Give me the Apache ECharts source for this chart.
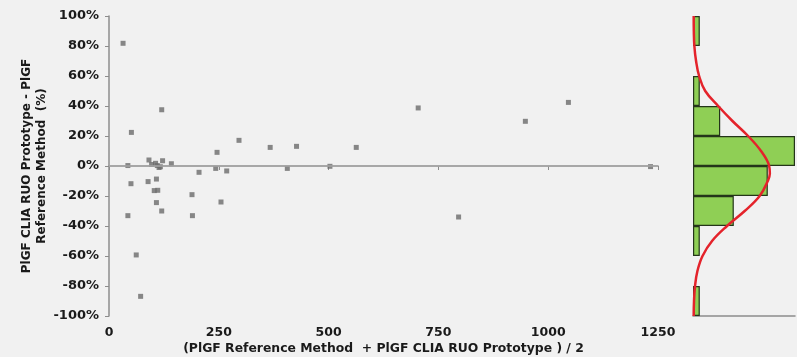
<!DOCTYPE html>
<html>
<head>
<meta charset="utf-8">
<script src="https://cdn.jsdelivr.net/npm/echarts@6/dist/echarts.min.js"></script>
<style>
  html, body { margin: 0; padding: 0; background: #f1f1f1; }
  #chart { width: 797px; height: 357px; }
</style>
</head>
<body>
<div id="chart"></div>
<script>
// mean of the two methods (x) and % difference (y)
const meanValues = [32, 120, 51, 43, 91, 97, 106, 110, 117, 114, 122, 142, 246, 296, 367, 427, 563, 503, 1233,
  205, 243, 268, 406, 89, 50, 108, 103, 111, 189, 108, 120, 190, 255, 43, 796, 62, 72, 704, 948, 1046];
const diffPct = [81.8, 37.5, 22.4, 0.3, 4, 1, 1.8, 0.3, -0.5, -1, 3.5, 1.5, 9.1, 17.1, 12.4, 13.1, 12.4, -0.2, -0.4,
  -4.2, -1.6, -3.3, -1.6, -10.4, -11.8, -8.7, -16.4, -16.2, -19.1, -24.4, -30, -33.1, -24, -33.1, -34, -59.3, -86.9, 38.7, 29.8, 42.4];

// histogram bins (top to bottom) and counts
const binLabels = ["80~100", "60~80", "40~60", "20~40", "0~20", "-20~0", "-40~-20", "-60~-40", "-80~-60", "-100~-80"];
const binCounts = [1, 0, 1, 4, 15, 11, 6, 1, 0, 1];

// fitted curve
const curvePct = [100, 90, 80, 70, 60, 50, 40, 30, 20, 10, 0, -5, -10, -20, -30, -40, -50, -60, -70, -80, -90, -100];
const curveCount = [0.1, 0.12, 0.2, 0.45, 0.9, 1.8, 3.7, 5.8, 8.1, 10.0, 11.2, 11.3, 11.0, 9.8, 7.6, 5.0, 2.8, 1.4, 0.65, 0.3, 0.15, 0.1];

const xTicks = [0, 250, 500, 750, 1000, 1250];

const font = "DejaVu Sans";
const axisGray = "#8c8c8c";

const chart = echarts.init(document.getElementById("chart"));
chart.setOption({
  backgroundColor: "#f1f1f1",
  animation: false,
  grid: [
    { left: 109, top: 16, width: 549, height: 300, outerBoundsMode: "none" },
    { left: 693, top: 16, width: 102, height: 300, outerBoundsMode: "none" },
  ],
  xAxis: [
    {
      gridIndex: 0,
      type: "value",
      min: xTicks[0],
      max: xTicks[xTicks.length - 1],
      interval: 250,
      name: "(PlGF Reference Method  + PlGF CLIA RUO Prototype ) / 2",
      nameLocation: "middle",
      nameGap: 27,
      nameMoveOverlap: false,
      nameTextStyle: { fontFamily: font, fontWeight: "bold", fontSize: 12.4, color: "#1a1a1a" },
      axisLine: { lineStyle: { color: axisGray, width: 1.5 } },
      axisTick: { show: true, length: 4, lineStyle: { color: axisGray } },
      axisLabel: { fontFamily: font, fontWeight: "bold", fontSize: 12.5, color: "#1a1a1a", margin: 10, formatter: (v) => String(v) },
      splitLine: { show: false },
    },
    {
      gridIndex: 1,
      type: "value",
      min: 0,
      max: 15,
      axisLine: { show: true, onZero: false, lineStyle: { color: axisGray, width: 1.5 } },
      axisTick: { show: false },
      axisLabel: { show: false },
      splitLine: { show: false },
    },
  ],
  yAxis: [
    {
      gridIndex: 0,
      type: "value",
      min: -100,
      max: 100,
      interval: 20,
      name: "PlGF CLIA RUO Prototype - PlGF\nReference Method  (%)",
      nameLocation: "middle",
      nameGap: 60,
      nameMoveOverlap: false,
      nameTextStyle: { fontFamily: font, fontWeight: "bold", fontSize: 12, color: "#1a1a1a", lineHeight: 15 },
      axisLine: { show: true, onZero: false, lineStyle: { color: axisGray, width: 1.5 } },
      axisTick: { show: true, length: 4, lineStyle: { color: axisGray } },
      axisLabel: { fontFamily: font, fontWeight: "bold", fontSize: 13, color: "#1a1a1a", margin: 10, formatter: "{value}%" },
      splitLine: { show: false },
    },
    {
      gridIndex: 1,
      type: "category",
      data: binLabels,
      inverse: true,
      show: false,
    },
    {
      gridIndex: 1,
      type: "value",
      min: -100,
      max: 100,
      show: false,
    },
  ],
  series: [
    {
      type: "scatter",
      xAxisIndex: 0,
      yAxisIndex: 0,
      symbol: "rect",
      symbolSize: 5,
      itemStyle: { color: "#6b6b6b" },
      data: meanValues.map((v, i) => [v, diffPct[i]]),
      markLine: {
        silent: true,
        symbol: "none",
        label: { show: false },
        lineStyle: { color: "#a8a8a8", width: 1.5, type: "solid" },
        data: [{ yAxis: 0 }],
      },
      z: 3,
    },
    {
      type: "bar",
      xAxisIndex: 1,
      yAxisIndex: 1,
      barWidth: "100%",
      barCategoryGap: "0%",
      itemStyle: { color: "#8fcf55", borderColor: "#24351a", borderWidth: 1.2 },
      data: binCounts.map((c) => (c === 0 ? "-" : c)),
    },
    {
      type: "line",
      xAxisIndex: 1,
      yAxisIndex: 2,
      smooth: 0.4,
      symbol: "none",
      lineStyle: { color: "#e4232b", width: 2.5 },
      data: curvePct.map((p, i) => [curveCount[i], p]),
      z: 5,
    },
  ],
});
</script>
</body>
</html>
